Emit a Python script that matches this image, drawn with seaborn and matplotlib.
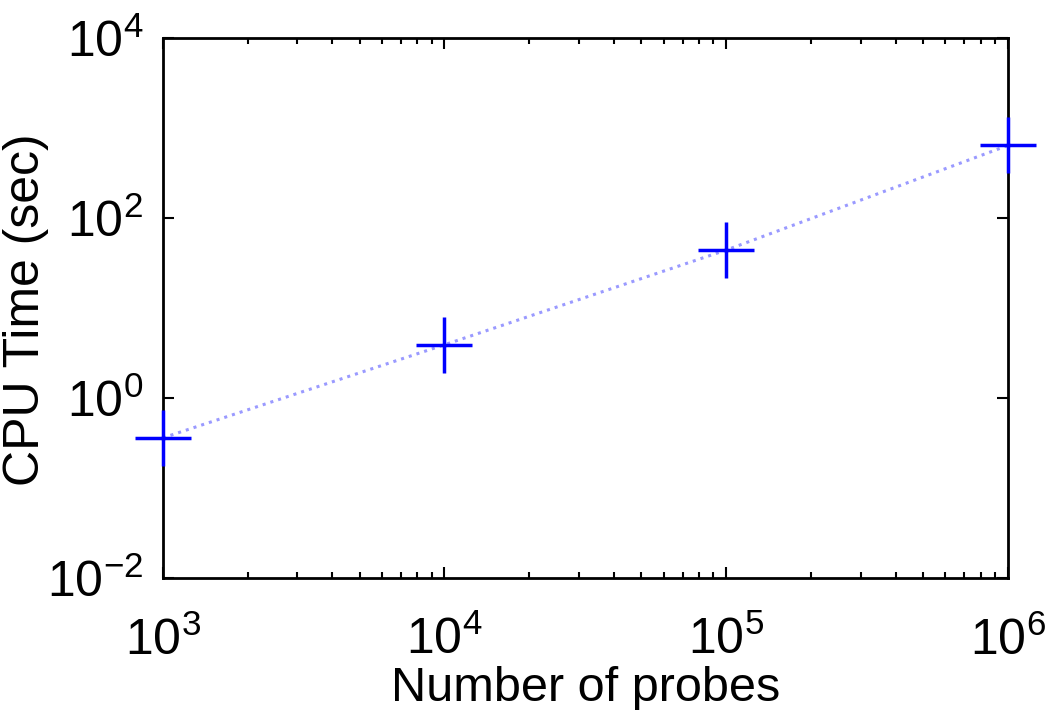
import seaborn as sns
import matplotlib.pyplot as plt
import matplotlib.ticker as mticker
import pandas as pd

# values
probes = [1e3, 1e4, 1e5, 1e6]
cpu_time = [0.36, 3.9, 44, 640]

df = pd.DataFrame({"probes": probes, "cpu": cpu_time})

sns.set_style("ticks")
plt.rcParams["font.family"] = ["Liberation Sans", "DejaVu Sans"]
plt.rcParams["mathtext.fontset"] = "custom"
plt.rcParams["mathtext.rm"] = "Liberation Sans"
plt.rcParams["mathtext.it"] = "Liberation Sans"
plt.rcParams["mathtext.bf"] = "Liberation Sans"
plt.rcParams["text.color"] = "black"
plt.rcParams["axes.labelcolor"] = "black"
plt.rcParams["xtick.color"] = "black"
plt.rcParams["ytick.color"] = "black"
plt.rcParams["axes.edgecolor"] = "black"

fig = plt.figure(figsize=(10.5, 7.1), dpi=100)
ax = fig.add_axes([0.155, 0.186, 0.805, 0.7605])

sns.lineplot(data=df, x="probes", y="cpu", ax=ax, color="#9a9aff",
             linestyle=":", linewidth=2.2)
sns.scatterplot(data=df, x="probes", y="cpu", ax=ax, marker="+", color="#0000ff",
                s=1600, linewidth=2.5, zorder=5, clip_on=False)

ax.set_xscale("log")
ax.set_yscale("log")
ax.set_xlim(1e3, 1e6)
ax.set_ylim(1e-2, 1e4)
ax.yaxis.set_major_locator(mticker.FixedLocator([1e-2, 1e0, 1e2, 1e4]))
ax.yaxis.set_minor_locator(mticker.NullLocator())
ax.xaxis.set_major_locator(mticker.LogLocator(base=10))
ax.xaxis.set_minor_locator(mticker.LogLocator(base=10, subs=range(2, 10)))

ax.tick_params(which="both", direction="in", top=True, right=True, width=1.5)
ax.tick_params(which="major", length=8, labelsize=36)
ax.tick_params(axis="x", which="major", pad=28)
ax.tick_params(axis="y", which="major", pad=14)
ax.tick_params(which="minor", length=4)
for s in ax.spines.values():
    s.set_linewidth(2)

ax.set_xlabel("Number of probes", fontsize=35)
ax.set_ylabel("CPU Time (sec)", fontsize=36)
ax.xaxis.set_label_coords(0.5, -0.163)
ax.yaxis.set_label_coords(-0.134, 0.496)

fig.savefig("out.png", dpi=100)
